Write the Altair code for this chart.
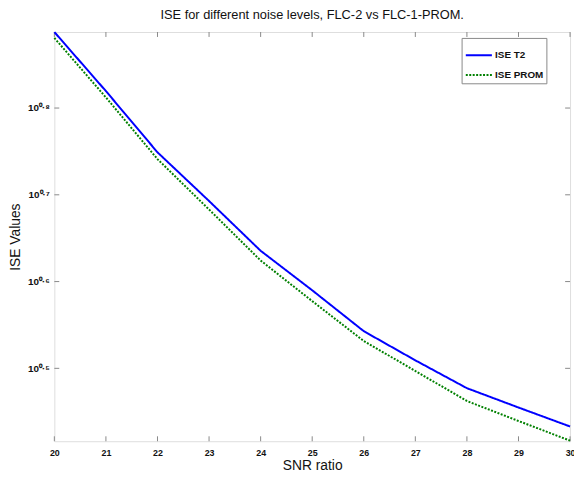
import altair as alt
import pandas as pd

snr = [20, 21, 22, 23, 24, 25, 26, 27, 28, 29, 30]
ise_t2 = [7.72, 6.60, 5.61, 4.93, 4.32, 3.89, 3.49, 3.23, 3.00, 2.85, 2.71]
ise_prom = [7.60, 6.49, 5.51, 4.82, 4.21, 3.78, 3.40, 3.14, 2.90, 2.75, 2.61]
series_names = ["ISE T2", "ISE PROM"]
x_ticks = [20, 21, 22, 23, 24, 25, 26, 27, 28, 29, 30]
y_ticks = [10 ** 0.5, 10 ** 0.6, 10 ** 0.7, 10 ** 0.8]
y_domain = [2.606, 7.72]

W, H = 523, 415

rows = []
for s, a, b in zip(snr, ise_t2, ise_prom):
    rows.append({"snr": s, "ise": a, "series": series_names[0]})
    rows.append({"snr": s, "ise": b, "series": series_names[1]})
df = pd.DataFrame(rows)

xscale = alt.Scale(domain=[20, 30], nice=False, zero=False)
yscale = alt.Scale(type="log", domain=y_domain, nice=False)

sup = "['⁰','¹','²','³','⁴','⁵','⁶','⁷','⁸','⁹']"
lines = alt.Chart(df).mark_line(strokeWidth=2).encode(
    x=alt.X("snr:Q", scale=xscale,
            axis=alt.Axis(values=x_ticks, title="SNR ratio", tickSize=0,
                          labelPadding=7, labelFontWeight="bold", labelFontSize=9,
                          labelColor="#111", titleFontSize=14, titleFontWeight="normal",
                          titlePadding=2, titleColor="#111", domain=False, grid=False,
                          labelFont="Liberation Sans", titleFont="Liberation Sans",
                          labelFlush=False)),
    y=alt.Y("ise:Q", scale=yscale,
            axis=alt.Axis(values=y_ticks, title="ISE Values", tickSize=0,
                          labelExpr="'10⁰·' + " + sup + "[round(log(datum.value)/LN10*10) % 10]",
                          labelPadding=5, labelFontWeight="bold", labelFontSize=10,
                          labelColor="#111", titleFontSize=14, titleFontWeight="normal",
                          titlePadding=4, titleColor="#111", domain=False, grid=False,
                          labelFont="Liberation Sans", titleFont="Liberation Sans")),
    color=alt.Color("series:N", scale=alt.Scale(domain=series_names, range=["#0000ff", "#008000"]),
                    legend=alt.Legend(title=None, orient="none", legendX=413, legendY=6,
                                      symbolType="stroke", symbolSize=700, symbolStrokeWidth=2,
                                      labelFontWeight="bold", labelFontSize=10,
                                      labelFont="Liberation Sans", labelColor="#111",
                                      strokeColor="#888", padding=3, fillColor="white",
                                      rowPadding=-13, labelOffset=2)),
    strokeDash=alt.StrokeDash("series:N",
                              scale=alt.Scale(domain=series_names, range=[[1, 0], [2, 1.5]]),
                              legend=None),
)

xt = pd.DataFrame({"snr": x_ticks})
yt = pd.DataFrame({"ise": y_ticks})
tick_col = "#888"
bottom_ticks = alt.Chart(xt).mark_rule(color=tick_col).encode(
    x=alt.X("snr:Q", scale=xscale), y=alt.value(H - 5), y2=alt.value(H))
top_ticks = alt.Chart(xt).mark_rule(color=tick_col).encode(
    x=alt.X("snr:Q", scale=xscale), y=alt.value(0), y2=alt.value(5))
left_ticks = alt.Chart(yt).mark_rule(color=tick_col).encode(
    y=alt.Y("ise:Q", scale=yscale), x=alt.value(0), x2=alt.value(5))
right_ticks = alt.Chart(yt).mark_rule(color=tick_col).encode(
    y=alt.Y("ise:Q", scale=yscale), x=alt.value(W - 5), x2=alt.value(W))

chart = alt.layer(bottom_ticks, top_ticks, left_ticks, right_ticks, lines).properties(
    width=W, height=H,
    title=alt.Title("ISE for different noise levels, FLC-2 vs FLC-1-PROM.",
                    fontSize=13, fontWeight="normal", font="Liberation Sans",
                    color="#111", offset=6, anchor="middle"),
    autosize=alt.AutoSizeParams(type="none"),
    padding={"left": 47, "top": 21, "right": 4, "bottom": 40},
).configure_view(stroke="#888", strokeWidth=1.2).configure(background="white")

chart.save("out.html", embed_options={"renderer": "svg", "actions": False})
